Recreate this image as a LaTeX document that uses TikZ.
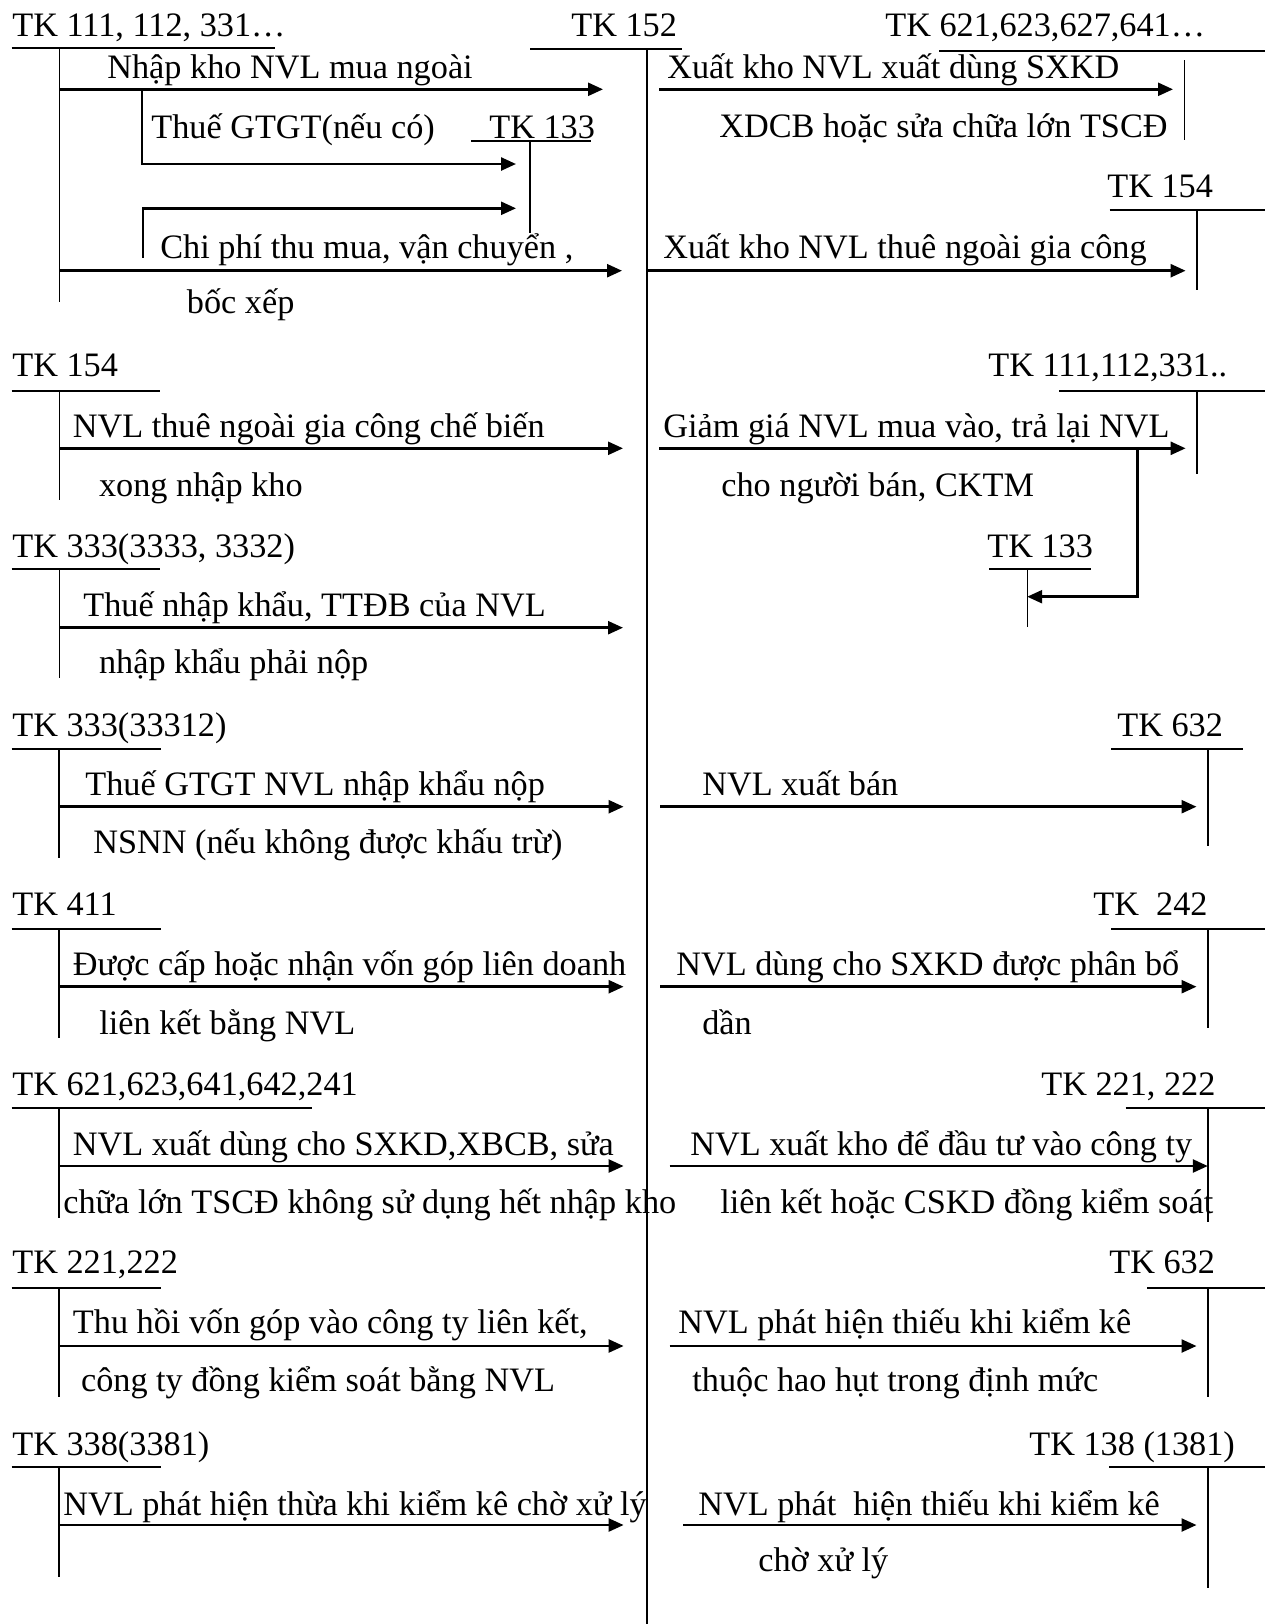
\documentclass[tikz,border=0pt]{standalone}
\usepackage{fontspec}
\setmainfont{Liberation Serif}
\usetikzlibrary{arrows.meta}
\tikzset{
    lbl/.style={anchor=base west, inner sep=0pt, font=\fontsize{19.5}{23}\selectfont},
    tline/.style={line width=0.8pt},
    uline/.style={line width=1.1pt},
    flow/.style={line width=1.4pt, -{Triangle[length=0.3cm,width=0.26cm]}}
}

\begin{document}
\begin{tikzpicture}[x=0.02cm, y=-0.02cm]
    \useasboundingbox (0,0) rectangle (1265,1624);
    % TK 152 in the middle
    \node[lbl] (tk152) at (571,36.7) {TK 152};
    \draw[uline] (530,49.3) -- (682,49.3);
    \draw[tline] (647,49.3) -- (647,1624);

    % top left
    \node[lbl] (tk111) at (12,36.7) {TK 111, 112, 331…};
    \draw[uline] (11.6,47.7) -- (274.5,47.7);
    \draw[tline] (59.3,47.7) -- (59.3,301.7);
    \node[lbl] (nk) at (107,78) {Nhập kho NVL mua ngoài};
    \draw[flow] (59.3,89.3) -- (603,89.3);
    \node[lbl] (gtgt) at (151,138) {Thuế GTGT(nếu có)};
    \draw[flow] (142.2,89.3) |- (516,164);
    \node[lbl] (tk133a) at (489,138) {TK 133};
    \draw[uline] (471,140.7) -- (591,140.7);
    \draw[tline] (530,140.7) -- (530,233);
    \draw[flow] (143,257.7) |- (516,208.3);
    \node[lbl] (cp) at (160,258) {Chi phí thu mua, vận chuyển ,};
    \draw[flow] (59.3,270.7) -- (622,270.7);
    \node[lbl] (bx) at (186.6,313) {bốc xếp};

    % top right
    \node[lbl] (tk621a) at (885,36.7) {TK 621,623,627,641…};
    \draw[uline] (939,50.7) -- (1265,50.7);
    \draw[tline] (1184.4,60) -- (1184.4,140);
    \node[lbl] (xk1) at (667,78) {Xuất kho NVL xuất dùng SXKD};
    \draw[flow] (659,89.3) -- (1173,89.3);
    \node[lbl] (xk2) at (719,137) {XDCB hoặc sửa chữa lớn TSCĐ};
    \node[lbl] (tk154a) at (1107,197) {TK 154};
    \draw[uline] (1109.5,210) -- (1265,210);
    \draw[tline] (1197,210) -- (1197,290);
    \node[lbl] (xk3) at (663,258) {Xuất kho NVL thuê ngoài gia công};
    \draw[flow] (647,270.7) -- (1185.6,270.7);

    % TK 154 / TK 111,112,331..
    \node[lbl] (tk154b) at (12,376.7) {TK 154};
    \draw[uline] (11.6,390.7) -- (160.4,390.7);
    \draw[tline] (59.3,390.7) -- (59.3,500);
    \node[lbl] (gc1) at (72.5,437.3) {NVL thuê ngoài gia công chế biến};
    \draw[flow] (59.3,448.3) -- (623,448.3);
    \node[lbl] (gc2) at (98.7,496.7) {xong nhập kho};
    \node[lbl] (tk111b) at (988,376.7) {TK 111,112,331..};
    \draw[uline] (1059,390.7) -- (1265,390.7);
    \draw[tline] (1197,390.7) -- (1197,474);
    \node[lbl] (gg1) at (663,437.3) {Giảm giá NVL mua vào, trả lại NVL};
    \draw[flow] (659,448.3) -- (1185.6,448.3);
    \draw[flow] (1137.5,448.3) |- (1027.2,596.7);
    \node[lbl] (gg2) at (721,496.7) {cho người bán, CKTM};
    \node[lbl] (tk133b) at (987,557.7) {TK 133};
    \draw[uline] (989,569.3) -- (1091,569.3);
    \draw[tline] (1027.2,569.3) -- (1027.2,626.7);

    % TK 333(3333, 3332)
    \node[lbl] (tk333a) at (12,557.7) {TK 333(3333, 3332)};
    \draw[uline] (11.6,569.3) -- (160.4,569.3);
    \draw[tline] (59.3,569.3) -- (59.3,678);
    \node[lbl] (tn1) at (83,616) {Thuế nhập khẩu, TTĐB của NVL};
    \draw[flow] (59.3,627.7) -- (623,627.7);
    \node[lbl] (tn2) at (98.7,673) {nhập khẩu phải nộp};

    % TK 333(33312) / TK 632
    \node[lbl] (tk333b) at (12,736.7) {TK 333(33312)};
    \draw[uline] (11.6,749.3) -- (161.4,749.3);
    \draw[tline] (59,749.3) -- (59,858);
    \node[lbl] (vat1) at (85,795) {Thuế GTGT NVL nhập khẩu nộp};
    \draw[flow] (59,806.7) -- (623.6,806.7);
    \node[lbl] (vat2) at (93,853) {NSNN (nếu không được khấu trừ)};
    \node[lbl] (tk632a) at (1117,736.7) {TK 632};
    \draw[uline] (1111,749.3) -- (1242.5,749.3);
    \draw[tline] (1207.8,749.3) -- (1207.8,845.7);
    \node[lbl] (xb) at (702,795) {NVL xuất bán};
    \draw[flow] (660,806.7) -- (1196.5,806.7);

    % TK 411 / TK 242
    \node[lbl] (tk411) at (12,915) {TK 411};
    \draw[uline] (11.6,929) -- (161.4,929);
    \draw[tline] (59,929) -- (59,1038.3);
    \node[lbl] (vg1) at (72.6,975) {Được cấp hoặc nhận vốn góp liên doanh};
    \draw[flow] (59,986.7) -- (623.6,986.7);
    \node[lbl] (vg2) at (99,1034) {liên kết bằng NVL};
    \node[lbl] (tk242) at (1093,915) {TK\ \ 242};
    \draw[uline] (1111,929) -- (1265,929);
    \draw[tline] (1207.8,929) -- (1207.8,1028.3);
    \node[lbl] (pb1) at (676,975) {NVL dùng cho SXKD được phân bổ};
    \draw[flow] (660,986.7) -- (1196.5,986.7);
    \node[lbl] (pb2) at (702,1034) {dần};

    % TK 621,623,641,642,241 / TK 221, 222
    \node[lbl] (tk621b) at (12,1095) {TK 621,623,641,642,241};
    \draw[uline] (11.6,1108.3) -- (312,1108.3);
    \draw[tline] (59,1108.3) -- (59,1217.7);
    \node[lbl] (th1) at (72.6,1155) {NVL xuất dùng cho SXKD,XBCB, sửa};
    \draw[flow] (59,1166) -- (623.6,1166);
    \node[lbl] (th2) at (63,1213) {chữa lớn TSCĐ không sử dụng hết nhập kho};
    \node[lbl] (tk221a) at (1041,1095) {TK 221, 222};
    \draw[uline] (1125.5,1108.3) -- (1265,1108.3);
    \draw[tline] (1207.8,1108.3) -- (1207.8,1222);
    \node[lbl] (dt1) at (690,1155) {NVL xuất kho để đầu tư vào công ty};
    \draw[flow] (669.6,1166) -- (1207.8,1166);
    \node[lbl] (dt2) at (720,1213) {liên kết hoặc CSKD đồng kiểm soát};

    % TK 221,222 / TK 632
    \node[lbl] (tk221b) at (12,1273) {TK 221,222};
    \draw[uline] (11.6,1287.7) -- (161.4,1287.7);
    \draw[tline] (59,1287.7) -- (59,1396.7);
    \node[lbl] (tv1) at (72.6,1333) {Thu hồi vốn góp vào công ty liên kết,};
    \draw[flow] (59,1346) -- (623.6,1346);
    \node[lbl] (tv2) at (80.7,1391.7) {công ty đồng kiểm soát bằng NVL};
    \node[lbl] (tk632b) at (1109,1273) {TK 632};
    \draw[uline] (1147,1287.7) -- (1265,1287.7);
    \draw[tline] (1207.8,1287.7) -- (1207.8,1396.7);
    \node[lbl] (hh1) at (678,1333) {NVL phát hiện thiếu khi kiểm kê};
    \draw[flow] (669.6,1346) -- (1196.5,1346);
    \node[lbl] (hh2) at (692,1391.7) {thuộc hao hụt trong định mức};

    % TK 338(3381) / TK 138 (1381)
    \node[lbl] (tk338) at (12,1455) {TK 338(3381)};
    \draw[uline] (11.6,1466.7) -- (161.4,1466.7);
    \draw[tline] (59,1466.7) -- (59,1576.7);
    \node[lbl] (ta) at (63,1515) {NVL phát hiện thừa khi kiểm kê chờ xử lý};
    \draw[flow] (59,1525) -- (623.6,1525);
    \node[lbl] (tk138) at (1029,1455) {TK 138 (1381)};
    \draw[uline] (1109,1466.7) -- (1265,1466.7);
    \draw[tline] (1207.8,1466.7) -- (1207.8,1588);
    \node[lbl] (ti1) at (698,1515) {NVL phát\ \ hiện thiếu khi kiểm kê};
    \draw[flow] (683,1525) -- (1196.5,1525);
    \node[lbl] (ti2) at (758,1571.7) {chờ xử lý};
\end{tikzpicture}
\end{document}
